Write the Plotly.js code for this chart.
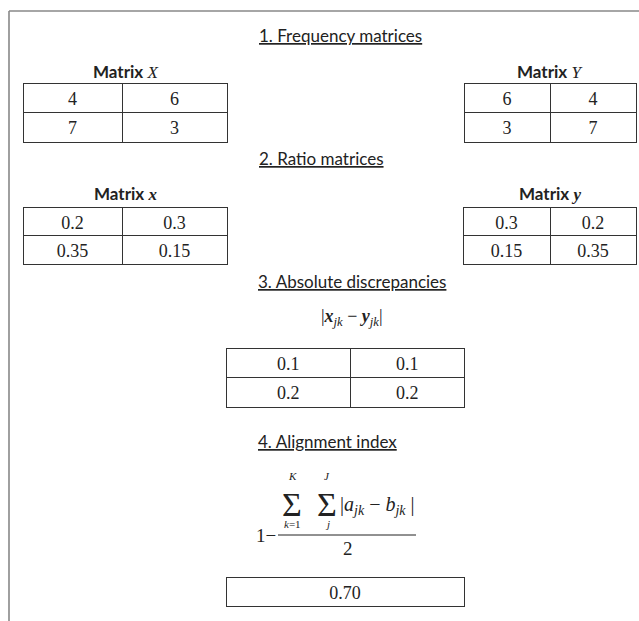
<!DOCTYPE html>
<html>
<head>
<meta charset="utf-8">
<script src="https://cdn.plot.ly/plotly-3.0.1.min.js"></script>
<style>html,body{margin:0;padding:0;background:#fff}#chart{width:639px;height:621px}</style>
</head>
<body>
<div id="chart"></div>
<script>
// ---- data (rows of each matrix) ----
const freqX = [["4", "6"], ["7", "3"]];
const freqY = [["6", "4"], ["3", "7"]];
const ratioX = [["0.2", "0.3"], ["0.35", "0.15"]];
const ratioY = [["0.3", "0.2"], ["0.15", "0.35"]];
const absDiff = [["0.1", "0.1"], ["0.2", "0.2"]];
const alignIndex = [["0.70"]];
const sectionTitles = ["1. Frequency matrices", "2. Ratio matrices", "3. Absolute discrepancies", "4. Alignment index"];

const W = 639, H = 621;
const SERIF = "Liberation Serif";
const SANS = "Lato";
const LINE = "#333";
const ser = t => '<span style="font-family:\'Liberation Serif\'">' + t + '</span>';

function makeTable(rows, left, right, top, colw, rowH) {
  const nCols = rows[0].length;
  const header = rows[0];
  const body = [];
  for (let c = 0; c < nCols; c++) body.push(rows.slice(1).map(r => r[c]));
  const font = {family: SERIF, size: 18, color: "#222"};
  return {
    type: "table",
    domain: {x: [left / W, right / W], y: [1 - (top + 80) / H, 1 - top / H]},
    columnwidth: colw,
    header: {values: header, height: rowH, align: "center",
      line: {color: LINE, width: 1}, fill: {color: "#fff"}, font: font},
    cells: {values: body, height: rowH, align: "center",
      line: {color: LINE, width: 1}, fill: {color: "#fff"}, font: font}
  };
}

const data = [
  makeTable(freqX, 23, 227, 83, [99, 105], 29.5),
  makeTable(freqY, 464, 636, 83, [86, 86], 29.5),
  makeTable(ratioX, 23, 227, 207, [99, 105], 28.5),
  makeTable(ratioY, 463, 636, 207, [87, 86], 28.5),
  makeTable(absDiff, 226, 465, 348, [125, 114], 29.5),
  makeTable(alignIndex, 226, 464, 577, [238], 29)
];

function ann(text, x, y, size, family, extra) {
  return Object.assign({text: text, x: x, y: y, xref: "x", yref: "y", showarrow: false,
    xanchor: "center", yanchor: "middle", font: {family: family, size: size, color: "#222"}}, extra || {});
}

const annotations = [
  ann("<u>" + sectionTitles[0] + "</u>", 257, 35, 17, SANS, {xanchor: "left"}),
  ann("<u>" + sectionTitles[1] + "</u>", 257, 158, 17, SANS, {xanchor: "left"}),
  ann("<u>" + sectionTitles[2] + "</u>", 256, 281, 17, SANS, {xanchor: "left"}),
  ann("<u>" + sectionTitles[3] + "</u>", 256, 441, 17, SANS, {xanchor: "left"}),
  ann("<b>Matrix</b> " + ser("<i>X</i>"), 126, 71, 17, SANS),
  ann("<b>Matrix</b> " + ser("<i>Y</i>"), 550, 71, 17, SANS),
  ann("<b>Matrix</b> " + ser("<b><i>x</i></b>"), 126, 193, 17, SANS),
  ann("<b>Matrix</b> " + ser("<b><i>y</i></b>"), 550, 193, 17, SANS),
  ann("|<b><i>x</i></b><sub><i>jk</i></sub> − <b><i>y</i></b><sub><i>jk</i></sub>|", 352, 317, 18, SERIF),
  ann("<i>K</i>", 292, 476, 11, SERIF),
  ann("<i>J</i>", 327, 476, 11, SERIF),
  ann("Σ", 292, 504, 34, SERIF),
  ann("Σ", 327, 504, 34, SERIF),
  ann("<i>k</i>=1", 292, 524, 11, SERIF),
  ann("<i>j</i>", 327, 524, 11, SERIF),
  ann("|<i>a</i><sub><i>jk</i></sub> − <i>b</i><sub><i>jk</i></sub> |", 377, 505, 20, SERIF),
  ann("1−", 266, 535, 19, SERIF),
  ann("2", 348, 548, 19, SERIF)
];

const shapes = [
  {type: "line", xref: "x", yref: "y", x0: 9, x1: 9, y0: 11, y1: 621, line: {color: "#888", width: 1.6}},
  {type: "line", xref: "x", yref: "y", x0: 9, x1: 639, y0: 11, y1: 11, line: {color: "#888", width: 1.6}},
  {type: "line", xref: "x", yref: "y", x0: 278, x1: 416, y0: 535, y1: 535, line: {color: "#222", width: 1}}
];

const layout = {
  width: W, height: H,
  margin: {l: 0, r: 0, t: 0, b: 0},
  paper_bgcolor: "#fff", plot_bgcolor: "#fff",
  showlegend: false,
  xaxis: {range: [0, W], visible: false, fixedrange: true},
  yaxis: {range: [H, 0], visible: false, fixedrange: true},
  annotations: annotations,
  shapes: shapes
};

Plotly.newPlot("chart", data, layout, {displayModeBar: false, staticPlot: true});
</script>
</body>
</html>
